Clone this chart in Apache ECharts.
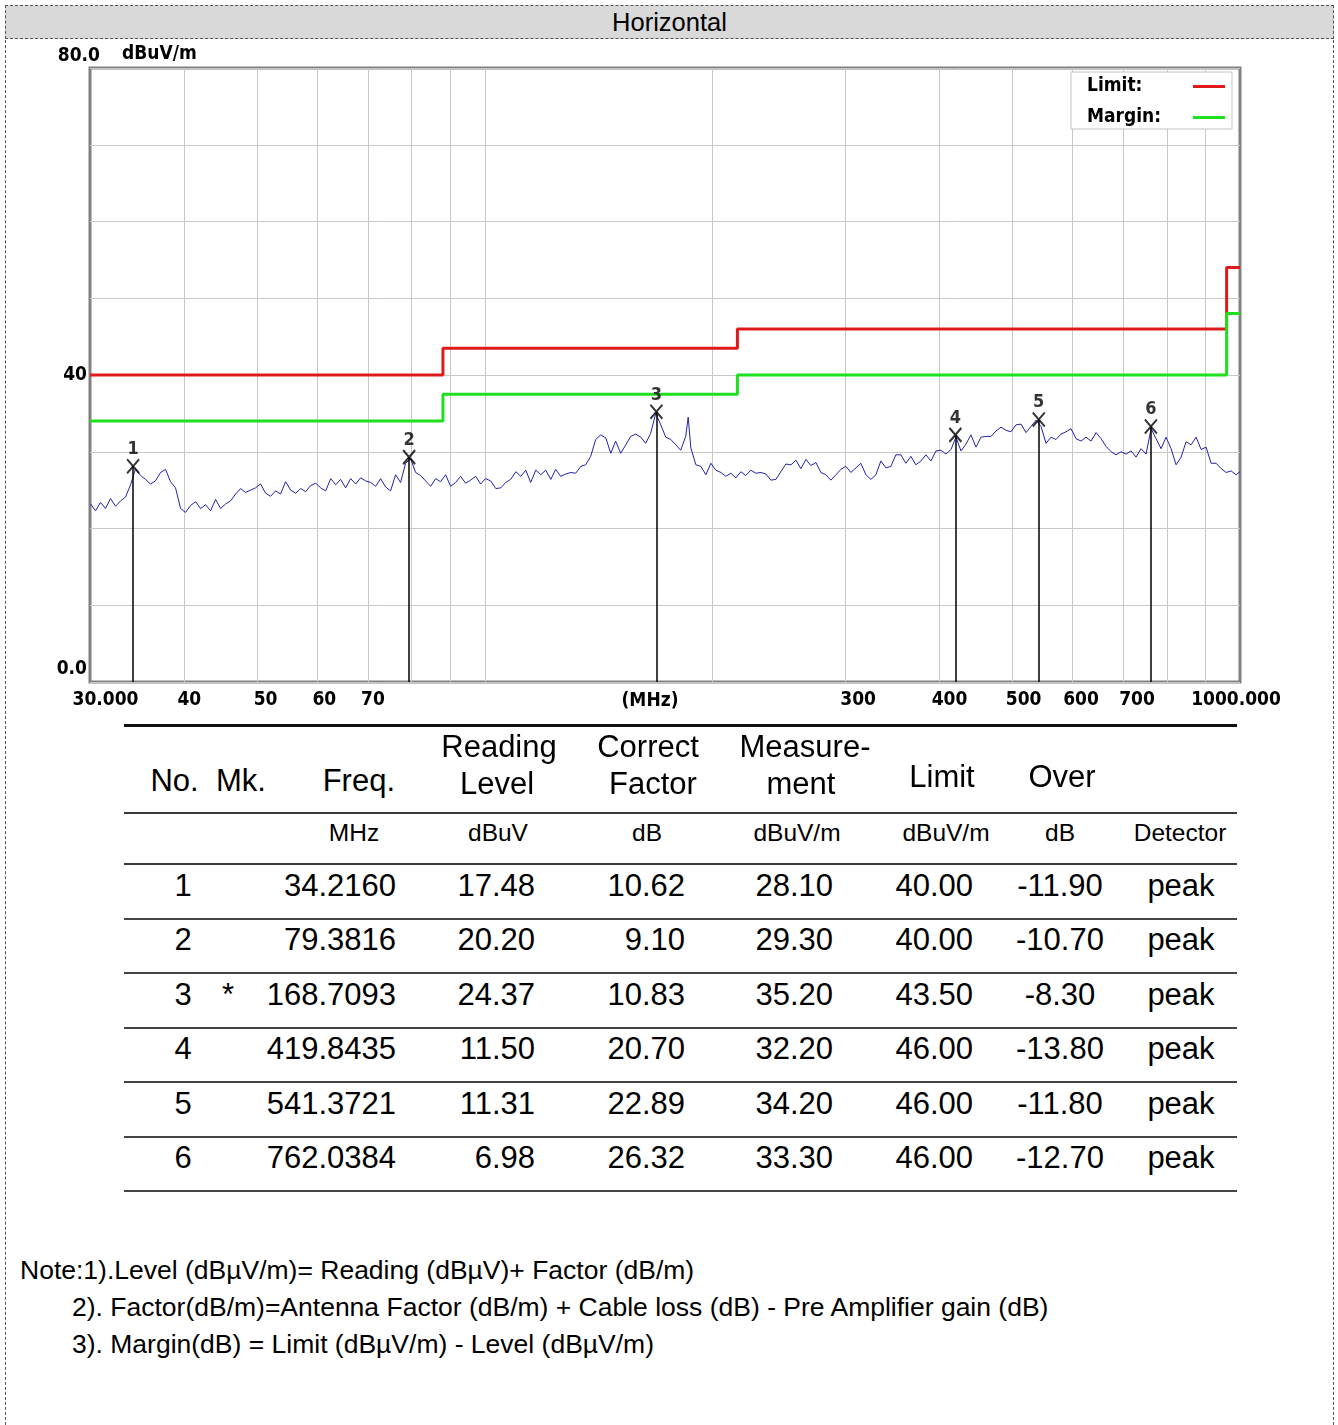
<!DOCTYPE html>
<html>
<head>
<meta charset="utf-8">
<title>Horizontal</title>
<script src="https://cdn.jsdelivr.net/npm/echarts@6/dist/echarts.min.js"></script>
<style>
  html, body { margin: 0; padding: 0; background: #fff; }
  body { width: 1338px; height: 1425px; position: relative; overflow: hidden;
         font-family: 'Liberation Sans', Arial, sans-serif; color: #000; }
  #frame { position: absolute; left: 5px; top: 5px; width: 1329px; height: 1450px;
           border: 1px dashed #555; box-sizing: border-box; }
  #titlebar { position: absolute; left: 5px; top: 5px; width: 1329px; height: 34px;
              background: #d9d9d9; border: 1px dashed #555; box-sizing: border-box;
              text-align: center; font-size: 25.5px; line-height: 32px; }
  #chart { position: absolute; left: 0; top: 40px; width: 1338px; height: 690px; }
  .t { position: absolute; white-space: nowrap; line-height: 1.2; }
  .rule { position: absolute; left: 124px; width: 1113px; }
</style>
</head>
<body>
<div id="frame"></div>
<div id="titlebar">Horizontal</div>
<div id="chart"></div>
<div id="table"></div>
<div id="notes"></div>
<script>
// ---- Receiver sweep (MHz) and peak level (dBuV/m) ----
const traceFreq = [
  30.05, 30.51, 30.98, 31.45, 31.94, 32.43, 32.93, 33.43, 33.95, 34.47,
  35.00, 35.53, 36.08, 36.63, 37.20, 37.77, 38.35, 38.94, 39.54, 40.14,
  40.77, 41.40, 42.03, 42.68, 43.33, 44.00, 44.68, 45.36, 46.06, 46.77,
  47.48, 48.21, 48.95, 49.70, 50.47, 51.24, 52.03, 52.83, 53.64, 54.47,
  55.32, 56.17, 57.03, 57.91, 58.80, 59.70, 60.62, 61.55, 62.50, 63.46,
  64.42, 65.41, 66.42, 67.44, 68.47, 69.53, 70.59, 71.68, 72.78, 73.90,
  75.02, 76.17, 77.34, 78.53, 79.74, 80.97, 82.21, 83.47, 84.76, 86.06,
  87.38, 88.72, 90.09, 91.47, 92.88, 94.30, 95.75, 97.23, 98.72, 100.2,
  101.8, 103.4, 105.0, 106.6, 108.2, 109.9, 111.6, 113.3, 115.0, 116.8,
  118.6, 120.4, 122.3, 124.1, 126.0, 128.0, 130.0, 131.9, 134.0, 136.0,
  138.1, 140.2, 142.4, 144.6, 146.8, 149.0, 151.3, 153.7, 156.0, 158.4,
  160.9, 163.3, 165.8, 168.4, 171.0, 173.6, 176.3, 179.0, 181.7, 184.5, 185.9,
  187.4, 190.3, 193.2, 196.2, 199.2, 202.2, 205.4, 208.5, 211.7, 215.0,
  218.3, 221.6, 225.0, 228.5, 232.0, 235.6, 239.2, 242.9, 246.6, 250.4,
  254.3, 258.2, 262.1, 266.2, 270.2, 274.4, 278.6, 282.9, 287.2, 291.7,
  296.1, 300.6, 305.3, 310.0, 314.7, 319.6, 324.5, 329.5, 334.5, 339.7,
  344.9, 350.2, 355.6, 361.0, 366.6, 372.2, 378.0, 383.8, 389.7, 395.7,
  401.8, 408.0, 414.3, 420.6, 427.1, 433.6, 440.3, 447.1, 453.9, 460.9,
  468.0, 475.2, 482.5, 489.9, 497.4, 505.1, 512.9, 520.7, 528.7, 536.9,
  545.1, 553.5, 562.0, 570.6, 579.4, 588.3, 597.4, 606.5, 615.8, 625.3,
  635.0, 644.8, 654.7, 664.7, 675.0, 685.3, 695.9, 706.6, 717.4, 728.4,
  739.6, 751.0, 762.5, 774.2, 786.1, 798.2, 810.5, 822.9, 835.6, 848.4,
  861.5, 874.7, 888.2, 901.8, 915.7, 929.8, 944.1, 958.6, 973.3, 988.3,
  1000
];
const traceLevel = [
  23.2, 22.3, 23.4, 22.6, 23.9, 22.9, 23.6, 24.1, 25.7, 27.8,
  26.9, 26.4, 25.8, 26.2, 27.3, 27.7, 26.1, 25.3, 22.6, 22.1,
  23.0, 23.5, 22.6, 23.1, 22.3, 23.8, 22.6, 23.2, 23.6, 24.5,
  25.2, 24.7, 25.0, 25.3, 25.8, 24.6, 24.2, 24.9, 24.5, 26.1,
  25.0, 24.6, 25.2, 24.8, 25.6, 25.9, 25.3, 24.9, 26.5, 25.7,
  26.4, 25.3, 26.5, 25.8, 26.6, 26.2, 26.0, 25.5, 26.5, 25.4,
  24.9, 27.0, 26.0, 28.5, 29.1, 27.3, 26.9, 26.2, 25.5, 26.5,
  26.1, 27.0, 25.5, 26.0, 26.8, 25.9, 26.3, 26.8, 25.8, 26.5,
  26.2, 25.2, 25.3, 26.0, 26.4, 27.4, 26.8, 27.6, 26.0, 27.6,
  27.0, 27.6, 26.4, 27.7, 26.8, 27.1, 27.3, 27.2, 28.1, 28.3,
  29.4, 31.6, 32.2, 31.8, 29.8, 31.4, 29.8, 30.9, 32.0, 32.3,
  31.9, 31.1, 32.4, 35.0, 33.5, 31.9, 31.6, 30.9, 30.2, 32.0, 34.5,
  30.5, 28.3, 28.1, 27.0, 28.5, 27.6, 27.3, 26.8, 27.2, 26.6,
  27.4, 26.9, 27.6, 27.2, 27.3, 27.1, 26.3, 26.4, 27.4, 28.4,
  28.3, 28.9, 27.8, 29.0, 28.2, 28.6, 27.3, 27.0, 26.3, 27.0,
  27.7, 28.1, 27.3, 27.9, 28.5, 27.0, 26.4, 27.0, 28.8, 27.9,
  28.1, 29.6, 29.6, 28.5, 29.4, 28.3, 28.8, 29.6, 28.8, 30.1,
  30.2, 29.7, 30.3, 31.9, 30.1, 31.0, 32.2, 30.6, 31.9, 32.0,
  32.0, 32.7, 33.2, 32.8, 32.6, 33.5, 33.6, 32.5, 33.3, 34.1,
  33.3, 31.1, 31.9, 31.6, 32.3, 32.6, 33.0, 31.7, 31.4, 31.9,
  31.4, 32.5, 31.7, 30.7, 30.0, 29.6, 30.0, 29.7, 30.1, 29.3,
  30.4, 29.7, 33.0, 31.7, 30.4, 31.9, 30.4, 28.3, 29.3, 31.3,
  30.9, 31.9, 30.3, 30.6, 28.5, 28.5, 27.8, 27.3, 27.5, 27.0,
  27.4
];

// ---- Limit line and 6 dB margin line (step corners) ----
const limitFreq   = [30, 88, 88, 216, 216, 960, 960, 1000];
const limitLevel  = [40, 40, 43.5, 43.5, 46, 46, 54, 54];
const marginLevel = [34, 34, 37.5, 37.5, 40, 40, 48, 48];

// ---- Marked peaks ----
const markNo        = [1, 2, 3, 4, 5, 6];
const markFlag      = ['', '', '*', '', '', ''];
const markFreq      = [34.2160, 79.3816, 168.7093, 419.8435, 541.3721, 762.0384];
const readingLevel  = [17.48, 20.20, 24.37, 11.50, 11.31, 6.98];
const correctFactor = [10.62, 9.10, 10.83, 20.70, 22.89, 26.32];
const measurement   = [28.10, 29.30, 35.20, 32.20, 34.20, 33.30];
const limitAtMark   = [40.00, 40.00, 43.50, 46.00, 46.00, 46.00];
const overLimit     = [-11.90, -10.70, -8.30, -13.80, -11.80, -12.70];
const detector      = ['peak', 'peak', 'peak', 'peak', 'peak', 'peak'];

// ---- Axis ticks ----
const xGridValues = [40, 50, 60, 70, 80, 90, 100, 200, 300, 400, 500, 600, 700, 800, 900];
const xTickValues = [30, 40, 50, 60, 70, 300, 400, 500, 600, 700, 1000];
const xTickText   = ['30.000', '40', '50', '60', '70', '300', '400', '500', '600', '700', '1000.000'];
const yTickValues = [0, 40, 80];
const yTickText   = ['0.0', '40', '80.0'];

// ---------------------------------------------------------------
const axisFont = { fontFamily: "'DejaVu Sans Condensed', 'DejaVu Sans'", fontWeight: 'bold', fontSize: 19, color: '#000' };

// horizontal nudges of the frequency labels relative to their ticks
const xLabelPad = { 30: [0, 0, 0, 31], 40: [0, 0, 0, 10], 50: [0, 0, 0, 16], 60: [0, 0, 0, 14],
  70: [0, 0, 0, 10], 300: [0, 0, 0, 26], 400: [0, 0, 0, 20], 500: [0, 0, 0, 22],
  600: [0, 0, 0, 17], 700: [0, 0, 0, 28], 1000: [0, 8, 0, 0] };
const xRich = {};
xTickValues.forEach(v => { xRich['f' + v] = Object.assign({ padding: xLabelPad[v] }, axisFont); });

// the top label sits left-aligned above the frame, the others end at the axis
const yRich = {
  lo:  Object.assign({ padding: [0, 13, 26, 0] }, axisFont),
  mid: Object.assign({ padding: [0, 13, 0, 0] }, axisFont),
  hi:  Object.assign({ padding: [0, 0, 24, 0] }, axisFont)
};

const legendRich = { k: Object.assign({ width: 101, align: 'left' }, axisFont) };

const chart = echarts.init(document.getElementById('chart'), null, { renderer: 'canvas' });

chart.setOption({
  animation: false,
  grid: {
    left: 90, top: 28, width: 1150, height: 614,
    outerBoundsMode: 'none', containLabel: false,
    show: true, borderColor: '#808080', borderWidth: 3, backgroundColor: '#fff'
  },
  legend: {
    data: ['Limit', 'Margin'],
    orient: 'vertical',
    right: 106, top: 32,
    align: 'right',
    icon: 'rect', itemWidth: 32, itemHeight: 3, itemGap: 12,
    formatter: n => '{k|' + n + ':}',
    padding: [5, 7, 2, 16],
    backgroundColor: '#fff', borderColor: '#c4c4c4', borderWidth: 1,
    textStyle: Object.assign({ rich: legendRich }, axisFont),
    selectedMode: false
  },
  xAxis: {
    type: 'log', logBase: 10, min: 30, max: 1000,
    name: '(MHz)', nameLocation: 'middle', nameGap: 10, nameMoveOverlap: false,
    nameTextStyle: Object.assign({ padding: [0, 30, 0, 0], verticalAlign: 'top' }, axisFont),
    axisLine: { show: false },
    axisTick: { show: false, customValues: xGridValues },
    splitLine: { show: true, lineStyle: { color: '#c8c8c8', width: 1 } },
    axisLabel: {
      customValues: xTickValues,
      margin: 9,
      hideOverlap: false,
      formatter: v => {
        const r = Math.round(v);
        const i = xTickValues.indexOf(r);
        return '{f' + r + '|' + (i >= 0 ? xTickText[i] : r) + '}';
      },
      rich: xRich
    }
  },
  yAxis: {
    type: 'value', min: 0, max: 80, interval: 10,
    name: 'dBuV/m', nameLocation: 'end', nameGap: 14, nameMoveOverlap: false,
    nameTextStyle: Object.assign({ align: 'left', verticalAlign: 'middle', padding: [0, 0, 0, 32] }, axisFont),
    axisLine: { show: false },
    axisTick: { show: false },
    splitLine: { show: true, lineStyle: { color: '#c8c8c8', width: 1 } },
    axisLabel: {
      customValues: yTickValues,
      margin: -10,
      hideOverlap: false,
      formatter: v => {
        const i = yTickValues.indexOf(Math.round(v));
        const key = v <= 0 ? 'lo' : (v >= 80 ? 'hi' : 'mid');
        return '{' + key + '|' + yTickText[i] + '}';
      },
      rich: yRich
    }
  },
  series: [
    {
      name: 'Level', type: 'line', silent: true, symbol: 'none',
      data: traceFreq.map((f, i) => [f, traceLevel[i]]),
      lineStyle: { color: '#2222aa', width: 1 }, z: 3
    },
    {
      name: 'Limit', type: 'line', silent: true, symbol: 'none',
      data: limitFreq.map((f, i) => [f, limitLevel[i]]),
      color: '#e01a1a', lineStyle: { color: '#e01a1a', width: 3 }, z: 4
    },
    {
      name: 'Margin', type: 'line', silent: true, symbol: 'none',
      data: limitFreq.map((f, i) => [f, marginLevel[i]]),
      color: '#1ee01e', lineStyle: { color: '#1ee01e', width: 3 }, z: 4
    },
    {
      name: 'Marker', type: 'scatter', silent: true,
      data: markFreq.map((f, i) => [f, measurement[i], markNo[i]]),
      symbol: 'path://M0,0L10,12M10,0L0,12',
      symbolSize: [12, 14],
      itemStyle: { color: 'none', borderColor: '#000', borderWidth: 2 },
      label: {
        show: true, position: 'top', distance: -2,
        formatter: p => String(p.value[2]),
        fontFamily: "'DejaVu Sans Condensed', 'DejaVu Sans'", fontWeight: 'bold', fontSize: 18, color: '#000'
      },
      markLine: {
        silent: true, symbol: 'none', animation: false,
        label: { show: false },
        lineStyle: { color: '#000', width: 1.5, type: 'solid' },
        data: markFreq.map((f, i) => [{ coord: [f, measurement[i]] }, { coord: [f, 0] }])
      },
      z: 5
    }
  ]
});

// ---------------------------------------------------------------
// Result table
const table = document.getElementById('table');

function put(parent, text, x, cy, size, align) {
  const d = document.createElement('div');
  d.className = 't';
  d.textContent = text;
  d.style.fontSize = size + 'px';
  d.style.top = (cy - 0.5885 * size).toFixed(1) + 'px';
  if (align === 'right') {
    d.style.right = (1338 - x) + 'px';
  } else if (align === 'center') {
    d.style.left = x + 'px';
    d.style.transform = 'translateX(-50%)';
  } else {
    d.style.left = x + 'px';
  }
  parent.appendChild(d);
}

function rule(y, h, color) {
  const d = document.createElement('div');
  d.className = 'rule';
  d.style.top = (y - h / 2) + 'px';
  d.style.height = h + 'px';
  d.style.background = color;
  table.appendChild(d);
}

const headSize = 31, unitSize = 24.5, cellSize = 31;

// header
put(table, 'No.', 174.5, 780, headSize, 'center');
put(table, 'Mk.', 241, 780, headSize, 'center');
put(table, 'Freq.', 395, 780, headSize, 'right');
put(table, 'Reading', 499, 746, headSize, 'center');
put(table, 'Level', 497, 783, headSize, 'center');
put(table, 'Correct', 648, 746, headSize, 'center');
put(table, 'Factor', 653, 783, headSize, 'center');
put(table, 'Measure-', 805, 746, headSize, 'center');
put(table, 'ment', 801, 783, headSize, 'center');
put(table, 'Limit', 942, 776, headSize, 'center');
put(table, 'Over', 1062, 776, headSize, 'center');

// units
const unitText = ['MHz', 'dBuV', 'dB', 'dBuV/m', 'dBuV/m', 'dB', 'Detector'];
const unitX    = [354, 498, 647, 797, 946, 1060, 1180];
unitText.forEach((u, i) => put(table, u, unitX[i], 832, unitSize, 'center'));

// rules
rule(725, 3, '#111');
rule(813, 2, '#3a3a3a');
rule(864, 2, '#3a3a3a');

// rows
markNo.forEach((n, i) => {
  const top = 864 + i * 54.5;
  const cy = top + 21;
  put(table, String(n), 183, cy, cellSize, 'center');
  if (markFlag[i]) put(table, markFlag[i], 228, cy, cellSize, 'center');
  put(table, markFreq[i].toFixed(4), 396, cy, cellSize, 'right');
  put(table, readingLevel[i].toFixed(2), 535, cy, cellSize, 'right');
  put(table, correctFactor[i].toFixed(2), 685, cy, cellSize, 'right');
  put(table, measurement[i].toFixed(2), 833, cy, cellSize, 'right');
  put(table, limitAtMark[i].toFixed(2), 973, cy, cellSize, 'right');
  put(table, overLimit[i].toFixed(2), 1060, cy, cellSize, 'center');
  put(table, detector[i], 1181, cy, cellSize, 'center');
  rule(top + 54.5, 2, '#444');
});

// notes
const notes = document.getElementById('notes');
put(notes, 'Note:1).Level (dB\u00b5V/m)= Reading (dB\u00b5V)+ Factor (dB/m)', 20, 1271, 26.5, 'left');
put(notes, '2). Factor(dB/m)=Antenna Factor (dB/m) + Cable loss (dB) - Pre Amplifier gain (dB)', 72, 1308, 26.5, 'left');
put(notes, '3). Margin(dB) = Limit (dB\u00b5V/m) - Level (dB\u00b5V/m)', 72, 1345, 26.5, 'left');
</script>
</body>
</html>
